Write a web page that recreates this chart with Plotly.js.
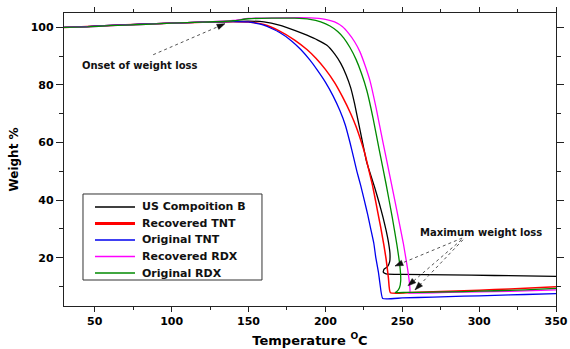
<!DOCTYPE html>
<html>
<head>
<meta charset="utf-8">
<script src="https://cdn.plot.ly/plotly-3.0.1.min.js"></script>
<style>
  html, body { margin: 0; padding: 0; background: #ffffff; }
  #chart { width: 570px; height: 349px; }
</style>
</head>
<body>
<div id="chart"></div>
<script>
// ---- Data ----
const seriesNames = ["US Compoition B", "Recovered TNT", "Original TNT", "Recovered RDX", "Original RDX"];

const compBX = [30,45,60,80,100,120,140,150,160,170,180,188,195,201,206,210,213.5,216.5,219,221.5,224,226.5,229,232,235,237.5,239.5,241,242,241.8,240.3,238.2,237.6,239.5,250,280,310,350];
const compBY = [100,100.3,100.7,101.1,101.5,101.8,102.1,102.2,101.9,100.8,99.0,97.3,95.6,93.8,90.8,87.5,83.5,79.0,73.5,67.0,60.5,54.0,49.5,44.5,39.0,34.0,29.5,25.5,21.5,18.5,16.8,16.0,15.0,14.4,14.2,14.0,13.8,13.5];

const recTntX = [30,45,60,80,100,120,140,150,160,170,180,188,194,200,206,211,216.5,220,223.5,226,228,230.5,232,234,236,238,239.5,241,242.3,260,280,300,320,340,350];
const recTntY = [100,100.3,100.7,101.1,101.5,101.8,102.0,101.9,101.0,98.8,95.6,92.3,89.2,85.4,80.8,76.0,70.0,65.5,60.0,55.5,51.0,45.5,41.5,36.0,30.5,24.5,19.5,13.0,7.8,8.0,8.3,8.7,9.1,9.6,9.9];

const origTntX = [30,45,60,80,100,120,140,150,160,170,178,184,190,195,200,205,209.5,213,216,218.5,220.5,223,225.3,227.5,229.5,231.5,232.8,234.5,235.5,237.3,250,270,290,310,330,350];
const origTntY = [100,100.3,100.7,101.1,101.5,101.8,102.0,101.9,100.8,98.3,95.3,92.3,88.6,85.0,81.0,76.2,71.0,66.0,60.0,54.5,50.0,45.0,40.0,35.0,30.0,25.0,20.0,15.0,11.0,5.8,6.0,6.3,6.6,6.9,7.2,7.5];

const recRdxX = [30,45,60,80,100,120,140,150,170,190,200,206,211,215,219,222.5,226,229,233,237.5,242,246.4,250.7,253.5,254.8,255,254,260,280,300,320,340,350];
const recRdxY = [100,100.2,100.6,101.0,101.5,101.8,102.4,103.1,103.3,103.3,102.8,101.9,100.3,98.0,95.0,91.5,86.5,81.5,72.0,60.0,48.2,36.6,25.0,16.0,10.5,8.0,7.7,7.7,7.9,8.1,8.3,8.6,8.8];

const origRdxX = [30,45,60,80,100,120,140,150,165,180,190,197,203,208,212,216,220,223.5,227,231,235,239.5,243.5,246.5,248.5,249.0,248.2,246.5,245.5,252,270,290,310,330,350];
const origRdxY = [100,100.2,100.6,101.0,101.5,101.8,102.3,103.0,103.2,103.2,102.8,101.9,100.5,98.6,96.3,93.0,88.8,84.0,78.0,68.5,57.5,45.5,34.0,24.5,17.0,12.0,9.5,8.2,7.9,7.9,8.0,8.2,8.5,8.8,9.3];

const xTicks = [50,100,150,200,250,300,350];
const yTicks = [20,40,60,80,100];
const xRange = [30, 350];
const yRange = [3.2, 105];

// Annotation texts and anchor points (data coordinates)
const onsetText = "Onset of weight loss";
const onsetLabel = [40.5, 86.7];
const onsetTail = [88, 90.5];
const onsetHead = [134.7, 101.3];

const maxText = "Maximum weight loss";
const maxLabel = [301, 28.9];
const maxTails = [[289, 26.8], [288.5, 26.2], [289.5, 26.2]];
const maxHeads = [[245.3, 17.1], [253.7, 10.2], [258.3, 8.8]];

// ---- Build traces ----
const colors = ["#000000", "#ff0000", "#0000ee", "#ff00ff", "#008a00"];
const widths = [1.3, 1.5, 1.3, 1.3, 1.3];
const legendWidths = [1.3, 3, 1.3, 1.3, 1.3];
const xs = [compBX, recTntX, origTntX, recRdxX, origRdxX];
const ys = [compBY, recTntY, origTntY, recRdxY, origRdxY];

const traces = seriesNames.map((n, i) => ({
  type: "scatter",
  mode: "lines",
  name: n,
  x: xs[i],
  y: ys[i],
  line: { color: colors[i], width: widths[i], shape: "spline", smoothing: 0.4 }
}));

const plotW = 492, plotH = 293;
const pxPerX = plotW / (xRange[1] - xRange[0]);
const pxPerY = plotH / (yRange[1] - yRange[0]);

const textFont = "DejaVu Sans, Verdana, sans-serif";
const shapes = [];
const annotations = [];

// dotted leader line plus a small filled arrowhead (pixel-sized path anchored at the head)
function arrow(tail, head) {
  shapes.push({
    type: "line", xref: "x", yref: "y",
    x0: tail[0], y0: tail[1], x1: head[0], y1: head[1],
    line: { color: "#555555", width: 1, dash: "dot" }
  });
  let ux = (tail[0] - head[0]) * pxPerX;
  let uy = (tail[1] - head[1]) * pxPerY;   // y up
  const L = Math.sqrt(ux * ux + uy * uy);
  ux /= L; uy /= L;
  const len = 8, half = 2.8;
  const px = -uy, py = ux;
  const b1x = len * ux + half * px, b1y = len * uy + half * py;
  const b2x = len * ux - half * px, b2y = len * uy - half * py;
  shapes.push({
    type: "path", xref: "x", yref: "y",
    xsizemode: "pixel", ysizemode: "pixel",
    xanchor: head[0], yanchor: head[1],
    path: `M 0 0 L ${b1x.toFixed(2)} ${b1y.toFixed(2)} L ${b2x.toFixed(2)} ${b2y.toFixed(2)} Z`,
    fillcolor: "#111111", line: { color: "#111111", width: 0.5 }
  });
}

arrow(onsetTail, onsetHead);
maxTails.forEach((t, i) => arrow(t, maxHeads[i]));

annotations.push({
  x: onsetLabel[0], y: onsetLabel[1], xref: "x", yref: "y",
  text: onsetText, showarrow: false, xanchor: "left", yanchor: "middle",
  font: { family: textFont, size: 10, color: "#111", weight: "bold" }
});
annotations.push({
  x: maxLabel[0], y: maxLabel[1], xref: "x", yref: "y",
  text: maxText, showarrow: false, xanchor: "center", yanchor: "middle",
  font: { family: textFont, size: 10, color: "#111", weight: "bold" }
});

// ---- Legend drawn as a box with samples (paper coordinates) ----
const legBox = { x0: 0.0386, x1: 0.4024, y0: 0.0887, y1: 0.3823 };
const legRows = [0.3379, 0.2816, 0.2253, 0.1689, 0.1126];
const legLine = [0.063, 0.1443];
const legTextX = 0.1545;

shapes.push({
  type: "rect", xref: "paper", yref: "paper",
  x0: legBox.x0, x1: legBox.x1, y0: legBox.y0, y1: legBox.y1,
  line: { color: "#333333", width: 1 }, fillcolor: "#ffffff", layer: "above"
});
seriesNames.forEach((n, i) => {
  shapes.push({
    type: "line", xref: "paper", yref: "paper",
    x0: legLine[0], x1: legLine[1], y0: legRows[i], y1: legRows[i],
    line: { color: colors[i], width: legendWidths[i] }, layer: "above"
  });
  annotations.push({
    x: legTextX, y: legRows[i], xref: "paper", yref: "paper",
    text: n, showarrow: false, xanchor: "left", yanchor: "middle",
    font: { family: textFont, size: 11, color: "#111", weight: "bold" }
  });
});

const fontBase = { family: textFont, color: "#000000", weight: "bold" };

const layout = {
  width: 570, height: 349,
  margin: { l: 64, r: 14, t: 13, b: 43 },
  paper_bgcolor: "#ffffff",
  plot_bgcolor: "#ffffff",
  showlegend: false,
  xaxis: {
    range: xRange, tickvals: xTicks, ticktext: xTicks.map(String),
    ticks: "outside", ticklen: 5, tickwidth: 1, tickcolor: "#222",
    minor: { tickvals: [75,125,175,225,275,325], ticks: "outside", ticklen: 3, tickcolor: "#222" },
    showline: true, linecolor: "#222", linewidth: 1.2, mirror: "allticks",
    showgrid: false, zeroline: false,
    tickfont: Object.assign({}, fontBase, { size: 11 }),
    title: { text: "Temperature <sup>O</sup>C", font: Object.assign({}, fontBase, { size: 13 }), standoff: 8 }
  },
  yaxis: {
    range: yRange, tickvals: yTicks, ticktext: yTicks.map(String),
    ticks: "outside", ticklen: 7, tickwidth: 1, tickcolor: "#222",
    minor: { tickvals: [10,30,50,70,90], ticks: "outside", ticklen: 4, tickcolor: "#222" },
    showline: true, linecolor: "#222", linewidth: 1.2, mirror: "allticks",
    showgrid: false, zeroline: false,
    tickfont: Object.assign({}, fontBase, { size: 11 }),
    title: { text: "Weight %", font: Object.assign({}, fontBase, { size: 12 }), standoff: 9 }
  },
  shapes: shapes,
  annotations: annotations
};

Plotly.newPlot("chart", traces, layout, { displayModeBar: false, staticPlot: true });
</script>
</body>
</html>
